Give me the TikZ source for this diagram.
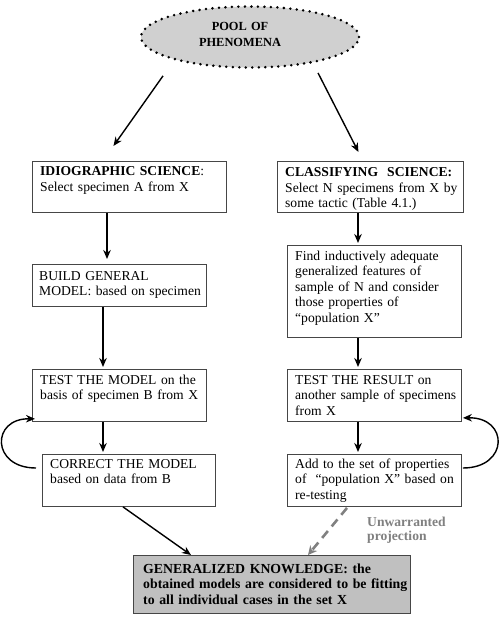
\documentclass[tikz,border=0pt]{standalone}
\usepackage{fontspec}
\setmainfont{Liberation Serif}
\usetikzlibrary{arrows.meta,calc,shapes.geometric}
\definecolor{boxline}{RGB}{70,70,70}
\definecolor{ellfill}{RGB}{208,208,208}
\definecolor{genfill}{RGB}{192,192,192}
\definecolor{dashgray}{RGB}{128,128,128}
\tikzset{
  box/.style={draw=boxline, line width=0.9pt, rectangle, inner sep=0pt, anchor=north west},
  txt/.style={inner sep=0pt, anchor=base west, align=left, font=\fontsize{13.6}{15.5}\selectfont},
  arr/.style={line width=1.4pt, -{Stealth[length=9pt,width=7.5pt]}},
  dasharr/.style={draw=dashgray, line width=2.6pt, dash pattern=on 9pt off 6pt, -{Stealth[length=9pt,width=9pt,fill=dashgray]}},
}
\begin{document}
\begin{tikzpicture}[x=1pt,y=-1pt]
\useasboundingbox (0,0) rectangle (500,617);
% ellipse
\node[ellipse, fill=ellfill, draw=black, line width=2.8pt, dash pattern=on 0pt off 6.5pt, line cap=round,
      minimum width=218pt, minimum height=61pt, inner sep=0pt] (e) at (250,37) {};
\node[inner sep=0pt, anchor=base, text width=120pt, align=center, font=\fontsize{12.4}{16}\selectfont\bfseries] (et) at (240,31) {POOL OF\\PHENOMENA};
% boxes
\node[box, minimum width=194pt, minimum height=51pt] (b1) at (32,161) {};
\node[box, minimum width=186pt, minimum height=51pt] (b2) at (277,161) {};
\node[box, minimum width=174pt, minimum height=42pt] (b3) at (32,264) {};
\node[box, minimum width=174pt, minimum height=92pt] (b4) at (287,245) {};
\node[box, minimum width=174pt, minimum height=52pt] (b5) at (32,369) {};
\node[box, minimum width=174pt, minimum height=52pt] (b6) at (287,369) {};
\node[box, minimum width=173pt, minimum height=52pt] (b7) at (42,454) {};
\node[box, minimum width=174pt, minimum height=52pt] (b8) at (287,454) {};
\node[box, fill=genfill, minimum width=277pt, minimum height=58pt] (b9) at (133,555) {};
% texts
\node[txt, text width=185pt] (t1) at (40,176) {\textbf{IDIOGRAPHIC SCIENCE}:\\Select specimen A from X};
\node[txt, text width=180pt] (t2) at (285,177) {\textbf{CLASSIFYING\ \ SCIENCE:}\\Select N specimens from X by\\some tactic (Table 4.1.)};
\node[txt, text width=170pt] (t3) at (39,280) {BUILD GENERAL\\MODEL: based on specimen};
\node[txt, text width=170pt] (t4) at (295,260) {Find inductively adequate\\generalized features of\\sample of N and consider\\those properties of\\“population X”};
\node[txt, text width=170pt] (t5) at (40,384) {TEST THE MODEL on the\\basis of specimen B from X};
\node[txt, text width=170pt] (t6) at (295,384) {TEST THE RESULT on\\another sample of specimens\\from X};
\node[txt, text width=170pt] (t7) at (50,468) {CORRECT THE MODEL\\based on data from B};
\node[txt, text width=170pt] (t8) at (295,468) {Add to the set of properties\\of\ \ “population X” based on\\re-testing};
\node[txt, text width=270pt, font=\fontsize{13.8}{15.8}\selectfont\bfseries] (t9) at (143,573) {GENERALIZED KNOWLEDGE: the\\obtained models are considered to be fitting\\to all individual cases in the set X};
\node[txt, text width=100pt, text=dashgray, font=\fontsize{13.6}{14}\selectfont\bfseries] (lab) at (367,526) {Unwarranted\\projection};
% arrows
\draw[arr] ($(e.south)+(-87,7)$) -- ($(b1.north)+(-16,-15)$);
\draw[arr] ($(e.south)+(68,4)$) -- ($(b2.north)+(-12,-9)$);
\draw[arr] ($(b1.south west)+(75,0)$) -- ($(b3.north west)+(75,-5)$);
\draw[arr] ($(b3.south west)+(71,0)$) -- ($(b5.north west)+(71,-2)$);
\draw[arr] ($(b5.south west)+(71,0)$) -- ($(b7.north west)+(61,-2)$);
\draw[arr] ($(b2.south west)+(81,0)$) -- ($(b4.north west)+(71,-2)$);
\draw[arr] ($(b4.south west)+(71,0)$) -- ($(b6.north west)+(71,-2)$);
\draw[arr] ($(b6.south west)+(71,0)$) -- ($(b8.north west)+(71,-2)$);
\draw[arr] ($(b7.south west)+(81,0)$) -- ($(b9.north west)+(58,0)$);
\draw[dasharr] ($(b8.south west)+(60,1)$) -- ($(b9.north west)+(175,0)$);
% loops
\draw[arr] ($(b7.north west)+(-6,14)$) .. controls (-9,468) and (-9,418) .. ($(b5.south west)+(3,-3)$);
\draw[arr] ($(b8.north east)+(1,14)$) .. controls (509,468) and (509,417) .. ($(b6.south east)+(1,-4)$);
\end{tikzpicture}
\end{document}
